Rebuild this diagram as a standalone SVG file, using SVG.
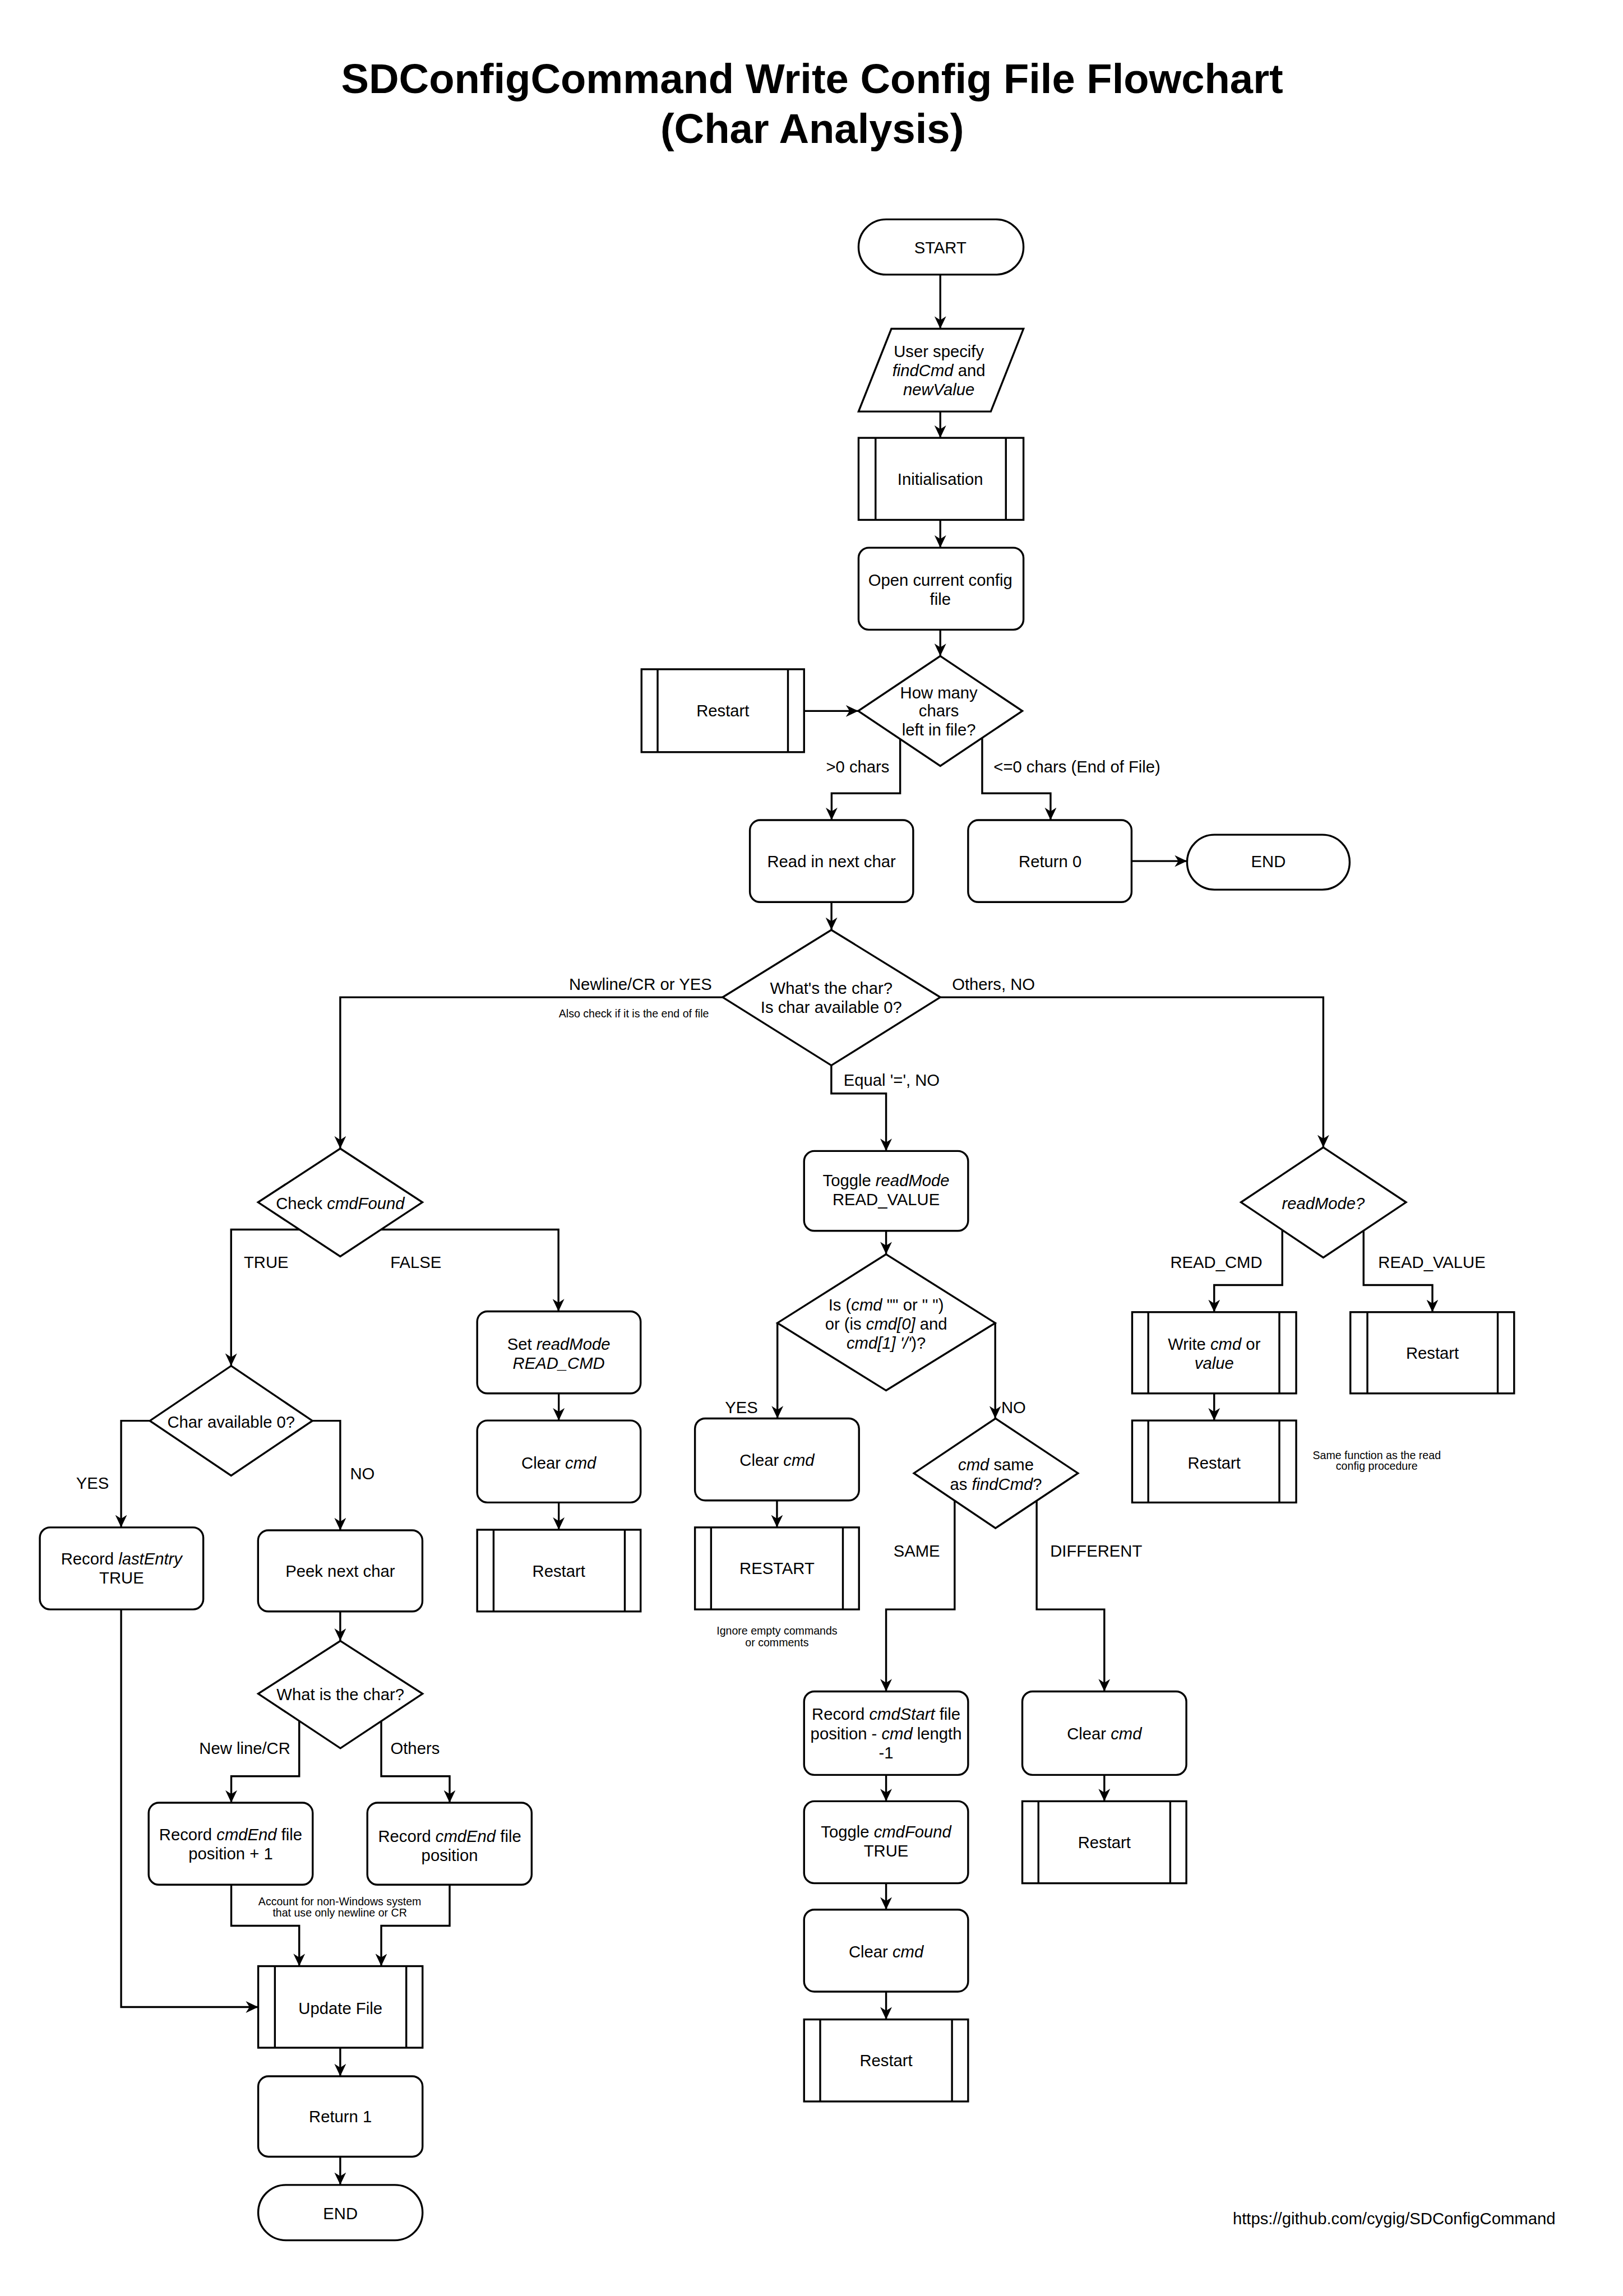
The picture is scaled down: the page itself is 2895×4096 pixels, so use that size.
<svg xmlns="http://www.w3.org/2000/svg" width="2895" height="4096" viewBox="0 0 2895 4096">
<defs>
<style>
.n{fill:#fff;stroke:#000;stroke-width:1.3}
.k{fill:none;stroke:#000;stroke-width:1.3}
.c{fill:none;stroke:#000;stroke-width:1.3;marker-end:url(#arr)}
text{font-family:"Liberation Sans",Arial,Helvetica,sans-serif;font-size:11.2px;fill:#000;text-anchor:middle;dominant-baseline:central}
.i{font-style:italic}
.s{text-anchor:start}
.e{text-anchor:end}
.sm{font-size:7.5px}
.t{font-size:28.4px;font-weight:bold;dominant-baseline:auto}
</style>
<marker id="arr" viewBox="0 0 10 10" refX="10" refY="5" markerWidth="8.5" markerHeight="8" markerUnits="userSpaceOnUse" orient="auto" preserveAspectRatio="none">
<path d="M0,0 L10,5 L0,10 L3,5 Z" fill="#000"/>
</marker>
</defs>
<rect x="0" y="0" width="2895" height="4096" fill="#fff"/>
<g transform="scale(2.6125)">
<g id="title">
<text class="t" x="554.5" y="63.5">SDConfigCommand Write Config File Flowchart</text>
<text class="t" x="554.5" y="97.5">(Char Analysis)</text>
</g>
<g id="connectors">
<path class="c" d="M642,187.5 V224.5"/>
<path class="c" d="M642,281 V299"/>
<path class="c" d="M642,355 V374"/>
<path class="c" d="M642,430 V448"/>
<path class="c" d="M549,485.5 H586"/>
<path class="c" d="M614.6,504.7 V541.7 H567.8 V560"/>
<path class="c" d="M670.6,503.9 V541.7 H717.3 V560"/>
<path class="c" d="M773,588 H810.5"/>
<path class="c" d="M567.7,616 V635"/>
<path class="c" d="M493.4,681 H232.3 V784.3"/>
<path class="c" d="M642,681 H903.5 V783.5"/>
<path class="c" d="M567.6,727.5 V746.7 H605 V786"/>
<path class="c" d="M605,840.5 V856.5"/>
<path class="c" d="M530.8,903.4 V968.6"/>
<path class="c" d="M679.5,903.4 V968.6"/>
<path class="c" d="M530.5,1024.6 V1043"/>
<path class="c" d="M651.8,1024.7 V1099 H605 V1155"/>
<path class="c" d="M707.8,1024.7 V1099 H754 V1155"/>
<path class="c" d="M605,1212 V1230"/>
<path class="c" d="M605,1286 V1304"/>
<path class="c" d="M605,1360 V1379"/>
<path class="c" d="M754,1212 V1230"/>
<path class="c" d="M875.5,839.9 V877.5 H829 V896"/>
<path class="c" d="M931,839.9 V877.5 H978 V896"/>
<path class="c" d="M829,951.5 V970"/>
<path class="c" d="M204.4,839.6 H157.8 V932.7"/>
<path class="c" d="M260.2,839.6 H381.3 V895.5"/>
<path class="c" d="M381.5,951.5 V970"/>
<path class="c" d="M381.5,1026 V1044.6"/>
<path class="c" d="M102.3,970.2 H82.7 V1043"/>
<path class="c" d="M213.3,970.2 H232.3 V1045"/>
<path class="c" d="M232.3,1100.4 V1120.5"/>
<path class="c" d="M204.3,1175.2 V1212.9 H157.9 V1231"/>
<path class="c" d="M260.3,1175.2 V1212.9 H307 V1231"/>
<path class="c" d="M157.9,1287 V1315 H204.3 V1342.6"/>
<path class="c" d="M307,1287 V1315 H260.3 V1342.6"/>
<path class="c" d="M82.7,1099 V1370.5 H176.3"/>
<path class="c" d="M232.3,1398.3 V1417.8"/>
<path class="c" d="M232.3,1472.7 V1492"/>
</g>
<g id="labels">
<text class="s" x="564" y="523.5">&gt;0 chars</text>
<text class="s" x="678.4" y="523.5">&lt;=0 chars (End of File)</text>
<text class="e" x="486" y="672">Newline/CR or YES</text>
<text class="e sm" x="484" y="692">Also check if it is the end of file</text>
<text class="s" x="650" y="672">Others, NO</text>
<text class="s" x="576" y="737.5">Equal '=', NO</text>
<text class="s" x="166.5" y="862">TRUE</text>
<text class="s" x="266.5" y="862">FALSE</text>
<text class="s" x="52" y="1013">YES</text>
<text class="s" x="239" y="1006.5">NO</text>
<text class="s" x="136" y="1194">New line/CR</text>
<text class="s" x="266.6" y="1194">Others</text>
<text class="s" x="495" y="961">YES</text>
<text class="s" x="683.6" y="961">NO</text>
<text class="s" x="610" y="1059">SAME</text>
<text class="s" x="717" y="1059">DIFFERENT</text>
<text class="s" x="799" y="862">READ_CMD</text>
<text class="s" x="941" y="862">READ_VALUE</text>
<text class="sm" x="232" y="1298.5">Account for non-Windows system</text>
<text class="sm" x="232" y="1306">that use only newline or CR</text>
<text class="sm" x="940" y="993.5">Same function as the read</text>
<text class="sm" x="940" y="1001">config procedure</text>
<text class="sm" x="530.5" y="1113.5">Ignore empty commands</text>
<text class="sm" x="530.5" y="1121.5">or comments</text>
<text class="e" x="1062" y="1515">https://github.com/cygig/SDConfigCommand</text>
</g>
<g id="start"><rect class="n" x="586.2" y="149.8" width="112.6" height="37.7" rx="18.8"/><text x="642" y="169">START</text></g>
<g id="input"><polygon class="n" points="608.6,224.5 698.8,224.5 676.5,281 586.2,281"/><text x="641" y="240">User specify</text><text x="641" y="253"><tspan class="i">findCmd</tspan> and</text><text class="i" x="641" y="266">newValue</text></g>
<g id="init"><rect class="n" x="586.2" y="299" width="112.6" height="56"/><path class="k" d="M597.8,299 V355 M686.8,299 V355"/><text x="642" y="327.4">Initialisation</text></g>
<g id="open"><rect class="n" x="586.2" y="374" width="112.6" height="56" rx="7"/><text x="642" y="396">Open current config</text><text x="642" y="409">file</text></g>
<g id="dChars"><polygon class="n" points="642,448 698,485.5 642,523 586,485.5"/><text x="641" y="473">How many</text><text x="641" y="485.5">chars</text><text x="641" y="498.5">left in file?</text></g>
<g id="restartTop"><rect class="n" x="438" y="457" width="111" height="56.6"/><path class="k" d="M449,457 V513.6 M538,457 V513.6"/><text x="493.5" y="485.5">Restart</text></g>
<g id="readNext"><rect class="n" x="512" y="560" width="111.5" height="56" rx="7"/><text x="567.7" y="588.5">Read in next char</text></g>
<g id="return0"><rect class="n" x="661" y="560" width="111.6" height="56" rx="7"/><text x="717" y="588.5">Return 0</text></g>
<g id="endTop"><rect class="n" x="810.5" y="570" width="111" height="37.5" rx="18.7"/><text x="866" y="588.5">END</text></g>
<g id="dChar"><polygon class="n" points="567.6,635 642,681 567.6,727.5 493.4,681"/><text x="567.6" y="675">What's the char?</text><text x="567.6" y="688">Is char available 0?</text></g>
<g id="toggleReadMode"><rect class="n" x="549" y="786" width="112" height="54.5" rx="7"/><text x="605" y="806">Toggle <tspan class="i">readMode</tspan></text><text x="605" y="819">READ_VALUE</text></g>
<g id="dEmpty"><polygon class="n" points="605,856.5 679.5,903.4 605,949.5 530.8,903.4"/><text x="605" y="891">Is (<tspan class="i">cmd</tspan> "" or " ")</text><text x="605" y="904">or (is <tspan class="i">cmd[0]</tspan> and</text><text x="605" y="917"><tspan class="i">cmd[1] '/'</tspan>)?</text></g>
<g id="clearMid"><rect class="n" x="474.5" y="968.6" width="112" height="56" rx="7"/><text x="530.5" y="997">Clear <tspan class="i">cmd</tspan></text></g>
<g id="restartMid"><rect class="n" x="474.5" y="1043" width="112" height="56"/><path class="k" d="M485.5,1043 V1099 M575.5,1043 V1099"/><text x="530.5" y="1071">RESTART</text></g>
<g id="dSame"><polygon class="n" points="679.7,968.6 736,1006 679.7,1043.5 624,1006"/><text x="680" y="1000"><tspan class="i">cmd</tspan> same</text><text x="680" y="1013.5">as <tspan class="i">findCmd</tspan>?</text></g>
<g id="recordStart"><rect class="n" x="549" y="1155" width="112" height="57" rx="7"/><text x="605" y="1170.5">Record <tspan class="i">cmdStart</tspan> file</text><text x="605" y="1184">position - <tspan class="i">cmd</tspan> length</text><text x="605" y="1197">-1</text></g>
<g id="toggleFound"><rect class="n" x="549" y="1230" width="112" height="56" rx="7"/><text x="605" y="1251">Toggle <tspan class="i">cmdFound</tspan></text><text x="605" y="1264">TRUE</text></g>
<g id="clearMid2"><rect class="n" x="549" y="1304" width="112" height="56" rx="7"/><text x="605" y="1333">Clear <tspan class="i">cmd</tspan></text></g>
<g id="restartMid2"><rect class="n" x="549" y="1379" width="112" height="56"/><path class="k" d="M560,1379 V1435 M650,1379 V1435"/><text x="605" y="1407">Restart</text></g>
<g id="clearRight"><rect class="n" x="698" y="1155" width="112" height="57" rx="7"/><text x="754" y="1184">Clear <tspan class="i">cmd</tspan></text></g>
<g id="restartRight"><rect class="n" x="698" y="1230" width="112" height="56"/><path class="k" d="M709,1230 V1286 M799,1230 V1286"/><text x="754" y="1258">Restart</text></g>
<g id="dReadMode"><polygon class="n" points="903.5,783.5 960,821 903.5,858.7 847.3,821"/><text class="i" x="903.5" y="822">readMode?</text></g>
<g id="writeCmd"><rect class="n" x="773" y="896" width="112" height="55.5"/><path class="k" d="M784,896 V951.5 M873.5,896 V951.5"/><text x="829" y="918">Write <tspan class="i">cmd</tspan> or</text><text class="i" x="829" y="931">value</text></g>
<g id="restartWrite"><rect class="n" x="773" y="970" width="112" height="56"/><path class="k" d="M784,970 V1026 M873.5,970 V1026"/><text x="829" y="999">Restart</text></g>
<g id="restartValue"><rect class="n" x="922" y="896" width="111.8" height="55.5"/><path class="k" d="M933.6,896 V951.5 M1022.6,896 V951.5"/><text x="978" y="924">Restart</text></g>
<g id="dCmdFound"><polygon class="n" points="232.3,784.3 288.4,821 232.3,858 176.2,821"/><text x="232.3" y="822">Check <tspan class="i">cmdFound</tspan></text></g>
<g id="setReadMode"><rect class="n" x="325.8" y="895.5" width="111.6" height="56" rx="7"/><text x="381.5" y="918">Set <tspan class="i">readMode</tspan></text><text class="i" x="381.5" y="931">READ_CMD</text></g>
<g id="clearLeft"><rect class="n" x="325.8" y="970" width="111.6" height="56" rx="7"/><text x="381.5" y="999">Clear <tspan class="i">cmd</tspan></text></g>
<g id="restartLeft"><rect class="n" x="325.8" y="1044.6" width="111.6" height="55.8"/><path class="k" d="M337,1044.6 V1100.4 M426.6,1044.6 V1100.4"/><text x="381.5" y="1073">Restart</text></g>
<g id="dAvail"><polygon class="n" points="157.8,932.7 213.3,970.2 157.8,1007.6 102.3,970.2"/><text x="157.8" y="971">Char available 0?</text></g>
<g id="recordLast"><rect class="n" x="27.2" y="1043" width="111.6" height="56" rx="7"/><text x="83" y="1064.5">Record <tspan class="i">lastEntry</tspan></text><text x="83" y="1077.5">TRUE</text></g>
<g id="peek"><rect class="n" x="176.2" y="1045" width="112.2" height="55.4" rx="7"/><text x="232.3" y="1073">Peek next char</text></g>
<g id="dWhat"><polygon class="n" points="232.4,1120.5 288.5,1156.6 232.4,1193.8 176.3,1156.6"/><text x="232.4" y="1157">What is the char?</text></g>
<g id="recordEnd1"><rect class="n" x="101.5" y="1231" width="112" height="56" rx="7"/><text x="157.5" y="1253">Record <tspan class="i">cmdEnd</tspan> file</text><text x="157.5" y="1266">position + 1</text></g>
<g id="recordEnd"><rect class="n" x="250.8" y="1231" width="112.2" height="56" rx="7"/><text x="307" y="1254">Record <tspan class="i">cmdEnd</tspan> file</text><text x="307" y="1267">position</text></g>
<g id="update"><rect class="n" x="176.3" y="1342.6" width="112.2" height="55.7"/><path class="k" d="M187.7,1342.6 V1398.3 M277.4,1342.6 V1398.3"/><text x="232.4" y="1371.5">Update File</text></g>
<g id="return1"><rect class="n" x="176.3" y="1417.8" width="112.2" height="54.9" rx="7"/><text x="232.4" y="1445.3">Return 1</text></g>
<g id="endBottom"><rect class="n" x="176.3" y="1492" width="112.2" height="37.8" rx="18.9"/><text x="232.4" y="1511.5">END</text></g>
</g>
</svg>
